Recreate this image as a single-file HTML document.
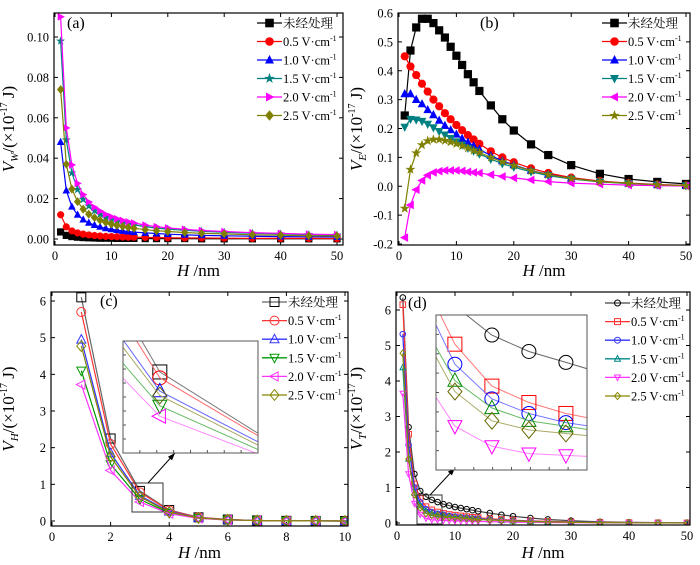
<!DOCTYPE html>
<html><head><meta charset="utf-8"><style>
html,body{margin:0;padding:0;background:#fff;}
svg{display:block;font-family:"Liberation Serif","Noto Serif CJK SC",serif;}
</style></head><body>
<svg id="fig" width="700" height="565" viewBox="0 0 700 565" xmlns="http://www.w3.org/2000/svg"></svg>
<script>
const xLong=[1,2,3,4,5,6,7,8,9,10,11,12,13,14,16,18,20,23,26,30,35,40,45,50];
const xShort=[1,2,3,4,5,6,7,8,9,10];
const seriesNames=["未经处理","0.5 V·cm⁻¹","1.0 V·cm⁻¹","1.5 V·cm⁻¹","2.0 V·cm⁻¹","2.5 V·cm⁻¹"];
const aTicksX=[0,10,20,30,40,50];
const aTicksY=[0,0.02,0.04,0.06,0.08,0.10];
const aTickLabelsY=["0.00","0.02","0.04","0.06","0.08","0.10"];
const aUntreated=[0.0035,0.0018,0.0012,0.0009,0.0007,0.0006,0.0005,0.0004,0.0004,0.0004,0.0003,0.0003,0.0003,0.0003,0.0002,0.0002,0.0002,0.0002,0.0001,0.0001,0.0001,0.0001,0.0001,0.0001];
const aE05=[0.012,0.006,0.004,0.003,0.0024,0.002,0.0017,0.0015,0.0013,0.0012,0.0011,0.001,0.0009,0.0009,0.0008,0.0007,0.0006,0.0005,0.0005,0.0004,0.0003,0.0003,0.0003,0.0002];
const aE10=[0.048,0.024,0.016,0.012,0.0096,0.008,0.0069,0.006,0.0053,0.0048,0.0044,0.004,0.0037,0.0034,0.003,0.0027,0.0024,0.0021,0.0018,0.0016,0.0014,0.0012,0.0011,0.001];
const aE15=[0.098,0.049,0.0327,0.0245,0.0196,0.0163,0.014,0.0123,0.0109,0.0098,0.0089,0.0082,0.0075,0.007,0.0061,0.0054,0.0049,0.0043,0.0038,0.0033,0.0028,0.0025,0.0022,0.002];
const aE20=[0.11,0.055,0.0367,0.0275,0.022,0.0183,0.0157,0.0138,0.0122,0.011,0.01,0.0092,0.0085,0.0079,0.0069,0.0061,0.0055,0.0048,0.0042,0.0037,0.0031,0.0028,0.0024,0.0022];
const aE25=[0.074,0.037,0.0247,0.0185,0.0148,0.0123,0.0106,0.0093,0.0082,0.0074,0.0067,0.0062,0.0057,0.0053,0.0046,0.0041,0.0037,0.0032,0.0028,0.0025,0.0021,0.0019,0.0016,0.0015];
const bTicksY=[-0.2,-0.1,0,0.1,0.2,0.3,0.4,0.5,0.6];
const bTickLabelsY=["-0.2","-0.1","0.0","0.1","0.2","0.3","0.4","0.5","0.6"];
const bUntreated=[0.245,0.47,0.55,0.58,0.58,0.565,0.54,0.515,0.483,0.452,0.42,0.388,0.36,0.33,0.28,0.232,0.193,0.145,0.108,0.073,0.043,0.025,0.015,0.008];
const bE05=[0.45,0.415,0.385,0.355,0.328,0.30,0.277,0.253,0.232,0.212,0.194,0.177,0.162,0.147,0.121,0.1,0.083,0.062,0.046,0.03,0.018,0.011,0.006,0.003];
const bE10=[0.32,0.32,0.30,0.285,0.265,0.247,0.228,0.21,0.195,0.18,0.165,0.152,0.14,0.128,0.106,0.088,0.074,0.055,0.041,0.027,0.016,0.01,0.005,0.002];
const bE15=[0.205,0.232,0.23,0.225,0.215,0.203,0.19,0.178,0.166,0.154,0.143,0.132,0.122,0.112,0.094,0.078,0.066,0.05,0.037,0.025,0.015,0.009,0.005,0.002];
const bE20=[-0.178,-0.065,-0.012,0.02,0.038,0.048,0.052,0.055,0.055,0.055,0.053,0.05,0.048,0.046,0.04,0.034,0.029,0.022,0.016,0.011,0.007,0.004,0.002,0.001];
const bE25=[-0.077,0.058,0.115,0.143,0.157,0.162,0.162,0.158,0.153,0.147,0.14,0.132,0.124,0.117,0.1,0.085,0.072,0.054,0.04,0.027,0.016,0.01,0.005,0.002];
const cTicksX=[0,2,4,6,8,10];
const cTicksY=[0,1,2,3,4,5,6];
const cUntreated=[6.1,2.25,0.82,0.3,0.1,0.04,0.015,0.005,0.002,0.001];
const cE05=[5.7,2.1,0.78,0.29,0.1,0.04,0.015,0.005,0.002,0.001];
const cE10=[4.95,1.85,0.69,0.26,0.09,0.035,0.013,0.005,0.002,0.001];
const cE15=[4.1,1.55,0.59,0.22,0.08,0.03,0.012,0.004,0.002,0.001];
const cE20=[3.72,1.38,0.52,0.2,0.07,0.028,0.01,0.004,0.002,0.001];
const cE25=[4.77,1.75,0.66,0.24,0.085,0.032,0.012,0.004,0.002,0.001];
const dUntreated=[6.35,2.7,1.38,0.9,0.74,0.65,0.59,0.53,0.49,0.45,0.42,0.39,0.36,0.33,0.28,0.23,0.19,0.14,0.1,0.065,0.035,0.02,0.01,0.005];
const dE05=[6.15,2.5,1.1,0.69,0.46,0.37,0.31,0.27,0.24,0.22,0.2,0.18,0.16,0.15,0.12,0.1,0.08,0.06,0.045,0.03,0.016,0.01,0.005,0.002];
const dE10=[5.32,2.2,1.0,0.58,0.39,0.31,0.26,0.23,0.2,0.18,0.16,0.15,0.13,0.12,0.1,0.08,0.065,0.05,0.035,0.025,0.013,0.008,0.004,0.002];
const dE15=[4.38,1.8,0.85,0.49,0.34,0.27,0.24,0.21,0.19,0.17,0.15,0.14,0.12,0.11,0.09,0.075,0.06,0.045,0.033,0.022,0.012,0.007,0.004,0.002];
const dE20=[3.65,1.38,0.55,0.24,0.13,0.09,0.08,0.07,0.065,0.06,0.055,0.05,0.045,0.042,0.036,0.03,0.025,0.02,0.015,0.01,0.006,0.004,0.002,0.001];
const dE25=[4.78,1.8,0.8,0.43,0.27,0.22,0.2,0.18,0.16,0.15,0.14,0.13,0.11,0.1,0.085,0.07,0.055,0.04,0.03,0.02,0.011,0.006,0.003,0.002];

const NS="http://www.w3.org/2000/svg";
const fig=document.getElementById('fig');
function el(tag,attrs,parent){const e=document.createElementNS(NS,tag);for(const k in attrs)e.setAttribute(k,attrs[k]);(parent||fig).appendChild(e);return e;}
function lin(d0,d1,p0,p1){return v=>p0+(v-d0)*(p1-p0)/(d1-d0);}

function marker(g,type,cx,cy,r,fill,stroke){
  let m;
  if(type==='square'){m=el('rect',{x:cx-r,y:cy-r,width:2*r,height:2*r},g);}
  else if(type==='circle'){m=el('circle',{cx:cx,cy:cy,r:r},g);}
  else{
    let pts;
    if(type==='up')pts=[[0,-r*1.1],[-r,r*0.8],[r,r*0.8]];
    else if(type==='down')pts=[[0,r*1.1],[-r,-r*0.8],[r,-r*0.8]];
    else if(type==='left')pts=[[-r*1.1,0],[r*0.8,-r],[r*0.8,r]];
    else if(type==='right')pts=[[r*1.1,0],[-r*0.8,-r],[-r*0.8,r]];
    else if(type==='diamond')pts=[[0,-r*1.2],[r,0],[0,r*1.2],[-r,0]];
    else {pts=[];for(let i=0;i<10;i++){const a=-Math.PI/2+i*Math.PI/5;const rr=i%2?r*0.45:r*1.15;pts.push([rr*Math.cos(a),rr*Math.sin(a)]);}}
    m=el('polygon',{points:pts.map(p=>(cx+p[0]).toFixed(1)+','+(cy+p[1]).toFixed(1)).join(' ')},g);
  }
  m.setAttribute('fill',fill);m.setAttribute('stroke',stroke);m.setAttribute('stroke-width',fill==='none'||fill==='#fff'?1:0.6);
  
  
  return m;
}

function drawSeries(g,xs,ys,sx,sy,s,r,name,lw){
  const sg=el('g',{},g);
  
  
  const d=xs.map((x,i)=>(i?'L':'M')+sx(x).toFixed(1)+','+sy(ys[i]).toFixed(1)).join('');
  el('path',{d:d,fill:'none',stroke:s.line,'stroke-width':lw||1.2},sg);
  xs.forEach((x,i)=>marker(sg,s.m,sx(x),sy(ys[i]),r,s.fill,s.stroke));
}

let clipId=0;
function panel(cfg){
  const g=el('g',{});
  
  
  const [L,T,R,B]=cfg.frame;
  const sx=lin(cfg.xd[0],cfg.xd[1],cfg.xp[0],cfg.xp[1]);
  const sy=lin(cfg.yd[0],cfg.yd[1],cfg.yp[0],cfg.yp[1]);
  const id='clip'+(clipId++);
  const cp=el('clipPath',{id:id},g);el('rect',{x:L,y:T,width:R-L,height:B-T},cp);
  const ag=el('g',{'font-size':12.5,fill:'#000'},g);
  
  
  cfg.ticksX.forEach(v=>{const x=sx(v);el('line',{x1:x,y1:B,x2:x,y2:B-4,stroke:'#000'},ag);el('line',{x1:x,y1:T,x2:x,y2:T+4,stroke:'#000'},ag);
    const t=el('text',{x:x,y:B+15,'text-anchor':'middle'},ag);t.textContent=String(v);});
  cfg.ticksY.forEach((v,i)=>{const y=sy(v);el('line',{x1:L,y1:y,x2:L+4,y2:y,stroke:'#000'},ag);el('line',{x1:R,y1:y,x2:R-4,y2:y,stroke:'#000'},ag);
    const t=el('text',{x:L-5,y:y+4.5,'text-anchor':'end'},ag);t.textContent=cfg.labelsY?cfg.labelsY[i]:String(v);});
  const dg=el('g',{'clip-path':'url(#'+id+')'},g);
  cfg.data.forEach((ys,i)=>drawSeries(dg,cfg.xs,ys,sx,sy,cfg.styles[i],cfg.r,'series-'+i,cfg.lw));
  el('rect',{x:L,y:T,width:R-L,height:B-T,fill:'none',stroke:'#000','stroke-width':1.2},g);
  if(cfg.inset){
    const I=cfg.inset;
    el('rect',{x:I.box[0],y:I.box[1],width:I.box[2]-I.box[0],height:I.box[3]-I.box[1],fill:'none',stroke:'#333','stroke-width':1},g);
    const al=el('line',{x1:I.arrow[0],y1:I.arrow[1],x2:I.arrow[2],y2:I.arrow[3],stroke:'#000','stroke-width':1},g);
    
    const a=Math.atan2(I.arrow[3]-I.arrow[1],I.arrow[2]-I.arrow[0]);const hx=I.arrow[2],hy=I.arrow[3];
    el('polygon',{points:`${hx},${hy} ${hx-8*Math.cos(a-0.35)},${hy-8*Math.sin(a-0.35)} ${hx-8*Math.cos(a+0.35)},${hy-8*Math.sin(a+0.35)}`,fill:'#000'},g);
    const [l,t,r,b]=I.frame;
    el('rect',{x:l,y:t,width:r-l,height:b-t,fill:'#fff'},g);
    const isx=lin(I.xd[0],I.xd[1],l,r),isy=lin(I.yd[0],I.yd[1],b,t);
    const iid='clip'+(clipId++);
    const icp=el('clipPath',{id:iid},g);el('rect',{x:l,y:t,width:r-l,height:b-t},icp);
    const ig=el('g',{'clip-path':'url(#'+iid+')'},g);
    
    
    cfg.data.forEach((ys,i)=>drawSeries(ig,cfg.xs,ys,isx,isy,I.styles[i],I.r,'inset-series-'+i,1));
    for(let k=1;k<8;k++){const yy=t+(b-t)*k/8;el('line',{x1:l,y1:yy,x2:l+3,y2:yy,stroke:'#555'},g);const xx=l+(r-l)*k/8;el('line',{x1:xx,y1:b,x2:xx,y2:b-3,stroke:'#555'},g);}
    el('rect',{x:l,y:t,width:r-l,height:b-t,fill:'none',stroke:'#555','stroke-width':1},g);
  }
  const lg=el('g',{'font-size':12.5},g);
  
  
  seriesNames.forEach((n,i)=>{
    const y=cfg.leg.y0+i*cfg.leg.dy;
    const eg=el('g',{},lg);
    
    
    const s=cfg.styles[i];
    el('line',{x1:cfg.leg.x,y1:y,x2:cfg.leg.x+25,y2:y,stroke:s.line,'stroke-width':1.3},eg);
    marker(eg,s.m,cfg.leg.x+12.5,y,cfg.legR||4,s.fill,s.stroke);
    const t=el('text',{x:cfg.leg.x+26,y:y+4.5},eg);
    if(i===0)t.textContent=n;else{const p=n.split(' ');t.textContent=p[0]+' V·cm';const sp=el('tspan',{'font-size':8,dy:-5},t);sp.textContent='-1';}
  });
  const pl=el('text',{x:cfg.pl[0],y:cfg.pl[1],'font-size':16},g);pl.textContent=cfg.label;
  
  const xl=el('text',{x:(L+R)/2,y:cfg.xly,'text-anchor':'middle','font-size':17},g);
  
  el('tspan',{'font-style':'italic'},xl).textContent='H';
  el('tspan',{},xl).textContent=' /nm';
  const yl=el('text',{transform:`translate(${cfg.ylx},${(T+B)/2}) rotate(-90)`,'text-anchor':'middle','font-size':17},g);
  
  el('tspan',{'font-style':'italic'},yl).textContent='V';
  el('tspan',{'font-style':'italic','font-size':11,dy:4},yl).textContent=cfg.sub;
  el('tspan',{dy:-4},yl).textContent='/(×10';
  el('tspan',{'font-size':10,dy:-7},yl).textContent='-17';
  el('tspan',{dy:7},yl).textContent=' J)';
}
const F=(m,c)=>({m:m,fill:c,stroke:c,line:c});
const O=(m,c,l)=>({m:m,fill:'none',stroke:c,line:l||c});
panel({name:'panel-a',label:'(a)',pl:[67,28],sub:'W',frame:[54,13,343,245],xd:[0,50],xp:[55,337],yd:[0,0.1],yp:[239,37],
  ticksX:aTicksX,ticksY:aTicksY,labelsY:aTickLabelsY,xs:xLong,data:[aUntreated,aE05,aE10,aE15,aE20,aE25],r:3.3,
  styles:[F('square','#000'),F('circle','#f00'),F('up','#00f'),F('star','#008080'),F('right','#f0f'),F('diamond','#808000')],
  leg:{x:257,y0:23,dy:18.5},xly:276,ylx:14});
panel({name:'panel-b',label:'(b)',pl:[480,28],sub:'E',frame:[398,13,690,245],xd:[0,50],xp:[399,686],yd:[-0.2,0.6],yp:[244,13],
  ticksX:aTicksX,ticksY:bTicksY,labelsY:bTickLabelsY,xs:xLong,data:[bUntreated,bE05,bE10,bE15,bE20,bE25],r:3.8,
  styles:[F('square','#000'),F('circle','#f00'),F('up','#00f'),F('down','#008080'),F('left','#f0f'),F('star','#808000')],
  leg:{x:602,y0:23,dy:18.5},xly:276,ylx:362});
panel({name:'panel-c',label:'(c)',pl:[100,306],sub:'H',frame:[51,292,348,526],xd:[0,10],xp:[52,345],yd:[0,6],yp:[521,301],
  ticksX:cTicksX,ticksY:cTicksY,xs:xShort,data:[cUntreated,cE05,cE10,cE15,cE20,cE25],r:4.5,legR:4.5,
  styles:[O('square','#000','#666'),O('circle','#f33'),O('up','#33f'),O('down','#090'),O('left','#f3f'),O('diamond','#880')],
  inset:{box:[132,483,163,512],arrow:[148,483,175,453],frame:[123,341,258,453],xd:[2.7,3.8],yd:[0.27,1.03],r:7,
    styles:[O('square','#000','#777'),O('circle','#f00','#f66'),O('up','#00f','#66f'),O('down','#080','#6b6'),O('left','#f0f','#f8f'),O('diamond','#660','#aa6')]},
  leg:{x:262,y0:302,dy:18.6},xly:558,ylx:14});
panel({name:'panel-d',label:'(d)',pl:[408,308],sub:'T',frame:[396,292,690,525],xd:[0,50],xp:[397,687],yd:[0,6],yp:[523,310],
  ticksX:aTicksX,ticksY:cTicksY,xs:xLong,data:[dUntreated,dE05,dE10,dE15,dE20,dE25],r:2.8,legR:3,
  styles:[O('circle','#000','#444'),O('square','#f33'),O('circle','#33f'),O('up','#088'),O('down','#f3f'),O('diamond','#880')],
  inset:{box:[417,495,442,524],arrow:[430,495,455,468],frame:[436,315,587,470],xd:[3.49,7.57],yd:[0,0.85],r:7,
    styles:[O('circle','#000','#666'),O('square','#f00','#f77'),O('circle','#00f','#77f'),O('up','#080','#6b6'),O('down','#f0f','#f8f'),O('diamond','#660','#aa6')]},
  leg:{x:605,y0:303,dy:18.6},xly:558,ylx:362});
</script>
</body></html>
